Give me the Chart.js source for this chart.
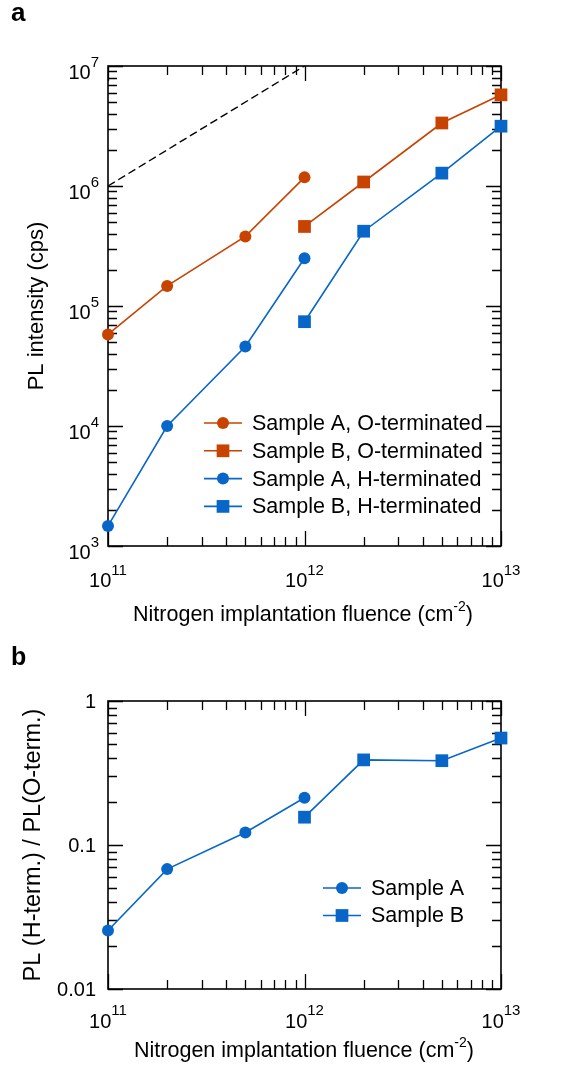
<!DOCTYPE html>
<html>
<head>
<meta charset="utf-8">
<script src="https://cdn.jsdelivr.net/npm/chart.js@4.4.1/dist/chart.umd.min.js"></script>
<style>
  body { margin: 0; background: #fff; }
  .wrap { position: relative; width: 575px; height: 1068px; }
  canvas { position: absolute; left: 0; }
</style>
</head>
<body>
<div class="wrap">
  <canvas id="chartA" width="575" height="640" style="top:0"></canvas>
  <canvas id="chartB" width="575" height="428" style="top:640px"></canvas>
</div>
<script>
// fluence values (cm^-2)
const fluenceA = [1e11, 2e11, 5e11, 1e12];
const fluenceB = [1e12, 2e12, 5e12, 1e13];

// panel a: PL intensity (cps)
const plA_O = [5.8e4, 1.47e5, 3.8e5, 1.18e6];
const plB_O = [4.6e5, 1.08e6, 3.35e6, 5.75e6];
const plA_H = [1.47e3, 1.0e4, 4.6e4, 2.5e5];
const plB_H = [7.4e4, 4.2e5, 1.28e6, 3.15e6];

// dashed guide line, slope 1
const guideX = [1e11, 1e12];
const guideY = [1e6, 1e7];

// panel b: ratio H-term / O-term
const ratioA = [0.0255, 0.068, 0.122, 0.213];
const ratioB = [0.156, 0.39, 0.385, 0.553];

// tick labels
const xTickExp = ["11", "12", "13"];
const yTickExpA = ["3", "4", "5", "6", "7"];
const yTickLabelsB = ["0.01", "0.1", "1"];

const seriesLabelsA = ["Sample A, O-terminated", "Sample B, O-terminated", "Sample A, H-terminated", "Sample B, H-terminated"];
const seriesLabelsB = ["Sample A", "Sample B"];

const ORANGE = "#C84300";
const BLUE = "#0866C8";
const FONT = "'Liberation Sans', Arial, Helvetica, sans-serif";

function pts(xs, ys) {
	return xs.map((x, i) => ({ x: x, y: ys[i] }));
}

function series(label, xs, ys, color, square) {
	return {
		label: label,
		data: pts(xs, ys),
		borderColor: color,
		backgroundColor: color,
		borderWidth: 1.6,
		pointStyle: square ? "rect" : "circle",
		pointRadius: square ? 9 : 6,
		pointBorderWidth: 0,
		clip: false,
		tension: 0,
	};
}

// draws "10" with a raised exponent
function drawPow(ctx, exp, x, baseY, expY, align) {
	ctx.font = "20px " + FONT;
	const wb = ctx.measureText("10").width;
	ctx.font = "15px " + FONT;
	const we = ctx.measureText(exp).width;
	let left = x;
	if (align === "center") left = x - (wb + we) / 2;
	if (align === "right") left = x - wb - we;
	ctx.textAlign = "left";
	ctx.textBaseline = "alphabetic";
	ctx.font = "20px " + FONT;
	ctx.fillText("10", left, baseY);
	ctx.font = "15px " + FONT;
	ctx.fillText(exp, left + wb, expY);
}

// frame with inward log ticks on all four sides
function frameTicks(chart) {
	const { ctx, chartArea: a, scales } = chart;
	const tickMajor = 15;
	const tickMinor = 9;
	ctx.save();
	ctx.strokeStyle = "#000";
	ctx.lineWidth = 1.3;
	ctx.beginPath();

	const xs = scales.x;
	for (let d = Math.round(Math.log10(xs.min)); d < Math.log10(xs.max) + 0.01; d++) {
		for (let m = 1; m <= 9; m++) {
			const v = m * Math.pow(10, d);
			if (v > xs.max * 1.001) break;
			const px = Math.round(xs.getPixelForValue(v)) + 0.5;
			const len = m === 1 ? tickMajor : tickMinor;
			ctx.moveTo(px, a.bottom);
			ctx.lineTo(px, a.bottom - len);
			ctx.moveTo(px, a.top);
			ctx.lineTo(px, a.top + len);
		}
	}
	const ys = scales.y;
	for (let d = Math.round(Math.log10(ys.min)); d < Math.log10(ys.max) + 0.01; d++) {
		for (let m = 1; m <= 9; m++) {
			const v = m * Math.pow(10, d);
			if (v > ys.max * 1.001) break;
			const py = Math.round(ys.getPixelForValue(v)) + 0.5;
			const len = m === 1 ? tickMajor : tickMinor;
			ctx.moveTo(a.left, py);
			ctx.lineTo(a.left + len, py);
			ctx.moveTo(a.right, py);
			ctx.lineTo(a.right - len, py);
		}
	}
	ctx.stroke();
	ctx.lineWidth = 1.6;
	ctx.strokeRect(a.left, a.top, a.right - a.left, a.bottom - a.top);
	ctx.restore();
}

function drawLegend(chart, items, x0, y0, dy) {
	const ctx = chart.ctx;
	ctx.save();
	items.forEach((idx, row) => {
		const ds = chart.data.datasets[idx];
		const y = y0 + row * dy;
		ctx.strokeStyle = ds.borderColor;
		ctx.lineWidth = ds.borderWidth;
		ctx.beginPath();
		ctx.moveTo(x0, y);
		ctx.lineTo(x0 + 38, y);
		ctx.stroke();
		ctx.fillStyle = ds.backgroundColor;
		ctx.beginPath();
		if (ds.pointStyle === "rect") {
			const s = ds.pointRadius * Math.SQRT1_2;
			ctx.rect(x0 + 19 - s, y - s, 2 * s, 2 * s);
		} else {
			ctx.arc(x0 + 19, y, ds.pointRadius, 0, Math.PI * 2);
		}
		ctx.fill();
		ctx.fillStyle = "#000";
		ctx.font = "21.5px " + FONT;
		ctx.textAlign = "left";
		ctx.textBaseline = "middle";
		ctx.fillText(ds.label, x0 + 48, y + 1);
	});
	ctx.restore();
}

function drawXTitle(ctx, cx, baseY) {
	const main = "Nitrogen implantation fluence (cm";
	ctx.font = "21.5px " + FONT;
	const w1 = ctx.measureText(main).width;
	const w3 = ctx.measureText(")").width;
	ctx.font = "14px " + FONT;
	const w2 = ctx.measureText("-2").width;
	let left = cx - (w1 + w2 + w3) / 2;
	ctx.textAlign = "left";
	ctx.textBaseline = "alphabetic";
	ctx.font = "21.5px " + FONT;
	ctx.fillText(main, left, baseY);
	ctx.font = "14px " + FONT;
	ctx.fillText("-2", left + w1, baseY - 10);
	ctx.font = "21.5px " + FONT;
	ctx.fillText(")", left + w1 + w2, baseY);
}

function drawYTitle(ctx, text, size, x, cy) {
	ctx.save();
	ctx.translate(x, cy);
	ctx.rotate(-Math.PI / 2);
	ctx.font = size + "px " + FONT;
	ctx.textAlign = "center";
	ctx.textBaseline = "alphabetic";
	ctx.fillText(text, 0, 0);
	ctx.restore();
}

const framePlugin = {
	id: "frame",
	beforeDatasetsDraw(chart) {
		frameTicks(chart);
	},
	afterDraw(chart) {
		const ctx = chart.ctx;
		const { chartArea: a, scales } = chart;
		const panel = chart.canvas.id;
		ctx.save();
		ctx.fillStyle = "#000";

		if (panel === "chartA") {
			xTickExp.forEach((e) => {
				const px = scales.x.getPixelForValue(Math.pow(10, +e));
				drawPow(ctx, e, px, a.bottom + 41, a.bottom + 29, "center");
			});
			yTickExpA.forEach((e) => {
				const py = scales.y.getPixelForValue(Math.pow(10, +e));
				drawPow(ctx, e, 99, py + 13, py + 1, "right");
			});
			drawXTitle(ctx, 303, 621);
			drawYTitle(ctx, "PL intensity (cps)", 22, 43, 306);
			ctx.font = "bold 26px " + FONT;
			ctx.textAlign = "left";
			ctx.fillText("a", 11, 21);
			drawLegend(chart, [1, 2, 3, 4], 204, 423, 27.8);
		} else {
			xTickExp.forEach((e) => {
				const px = scales.x.getPixelForValue(Math.pow(10, +e));
				drawPow(ctx, e, px, a.bottom + 39, a.bottom + 26, "center");
			});
			ctx.font = "20px " + FONT;
			ctx.textAlign = "right";
			ctx.textBaseline = "middle";
			yTickLabelsB.forEach((t) => {
				const py = scales.y.getPixelForValue(parseFloat(t));
				ctx.fillText(t, 96, py + 1);
			});
			drawXTitle(ctx, 304, 417);
			drawYTitle(ctx, "PL (H-term.) / PL(O-term.)", 23.5, 40, 205);
			ctx.font = "bold 25px " + FONT;
			ctx.textAlign = "left";
			ctx.textBaseline = "alphabetic";
			ctx.fillText("b", 11, 25);
			drawLegend(chart, [0, 1], 323, 248, 27.5);
		}
		ctx.restore();
	},
};

function logScales(xmin, xmax, ymin, ymax) {
	return {
		x: { type: "logarithmic", min: xmin, max: xmax, display: false },
		y: { type: "logarithmic", min: ymin, max: ymax, display: false },
	};
}

const commonOptions = {
	responsive: false,
	animation: false,
	devicePixelRatio: 1,
	plugins: { legend: { display: false }, tooltip: { enabled: false } },
};

new Chart(document.getElementById("chartA"), {
	type: "line",
	data: {
		datasets: [
			{
				label: "guide",
				data: pts(guideX, guideY),
				borderColor: "#000",
				borderWidth: 1.4,
				borderDash: [8, 4],
				pointRadius: 0,
				clip: false,
			},
			series(seriesLabelsA[0], fluenceA, plA_O, ORANGE, false),
			series(seriesLabelsA[1], fluenceB, plB_O, ORANGE, true),
			series(seriesLabelsA[2], fluenceA, plA_H, BLUE, false),
			series(seriesLabelsA[3], fluenceB, plB_H, BLUE, true),
		],
	},
	options: Object.assign({}, commonOptions, {
		layout: { padding: { left: 108, right: 74, top: 66, bottom: 94 } },
		scales: logScales(1e11, 1e13, 1e3, 1e7),
	}),
	plugins: [framePlugin],
});

new Chart(document.getElementById("chartB"), {
	type: "line",
	data: {
		datasets: [
			series(seriesLabelsB[0], fluenceA, ratioA, BLUE, false),
			series(seriesLabelsB[1], fluenceB, ratioB, BLUE, true),
		],
	},
	options: Object.assign({}, commonOptions, {
		layout: { padding: { left: 108, right: 74, top: 61, bottom: 79 } },
		scales: logScales(1e11, 1e13, 0.01, 1),
	}),
	plugins: [framePlugin],
});
</script>
</body>
</html>
